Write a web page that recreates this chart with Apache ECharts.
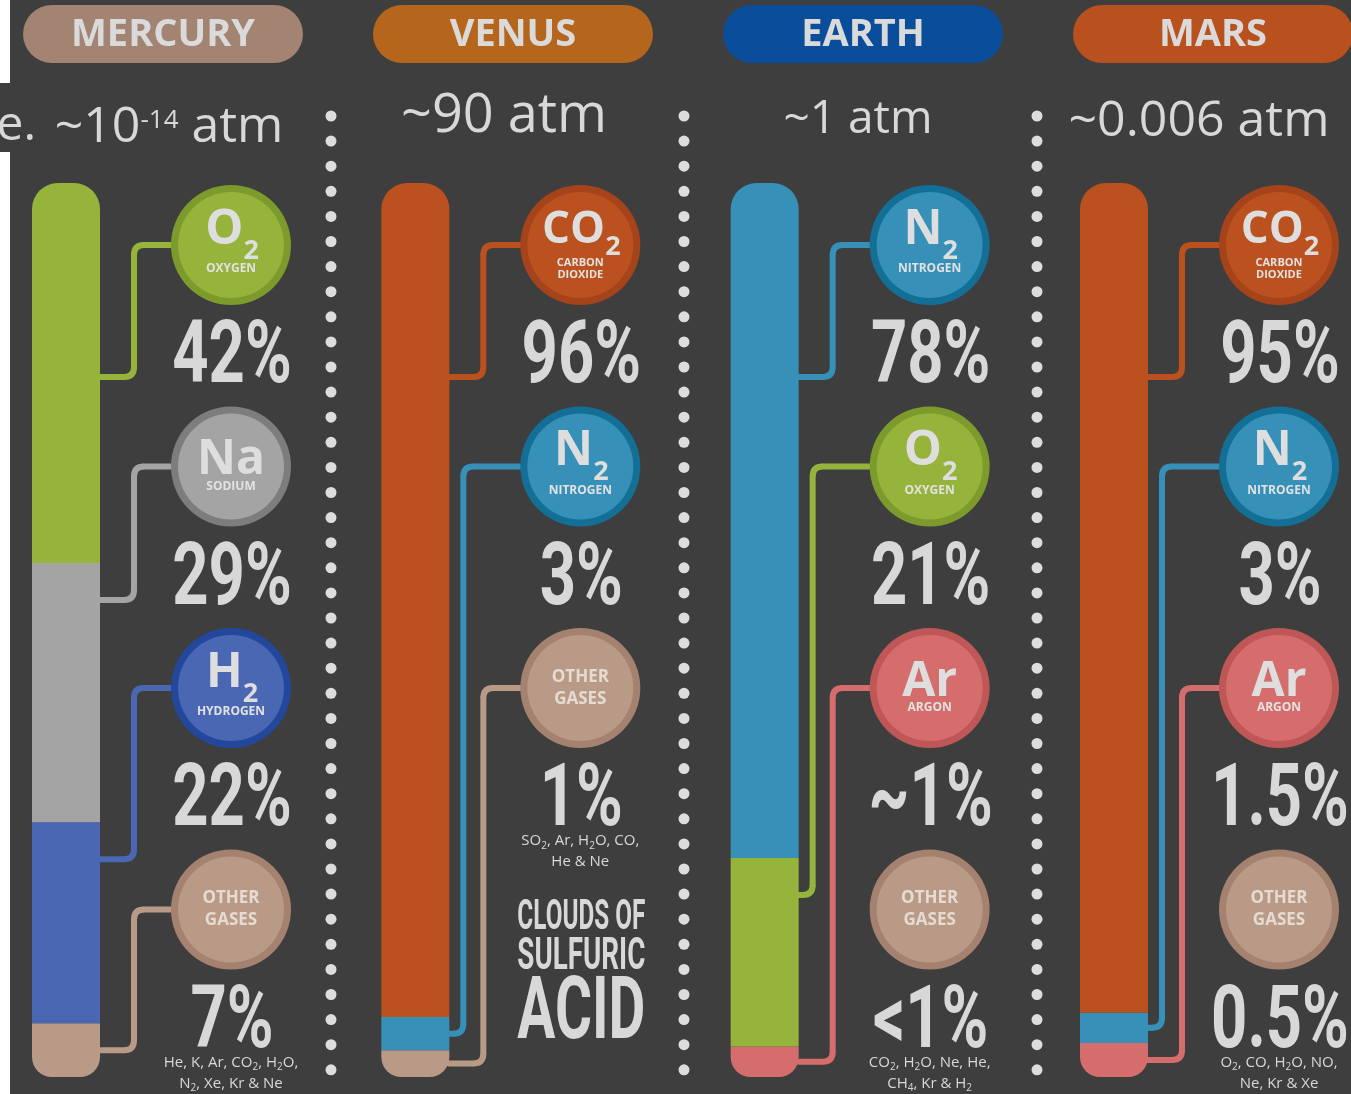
<!DOCTYPE html>
<html>
<head>
<meta charset="utf-8">
<script src="https://cdn.jsdelivr.net/npm/echarts@6/dist/echarts.min.js"></script>
<style>
html, body { margin: 0; padding: 0; background: #fff; }
#main { width: 1351px; height: 1094px; }
</style>
</head>
<body>
<div id="main"></div>
<script>
// data
var planets = ['MERCURY', 'VENUS', 'EARTH', 'MARS'];
var pressures = ['~10^{-14} atm', '~90 atm', '~1 atm', '~0.006 atm'];
var mercuryGases = ['O2', 'Na', 'H2', 'other'];
var venusGases = ['CO2', 'N2', 'other'];
var earthGases = ['N2', 'O2', 'Ar', 'other'];
var marsGases = ['CO2', 'N2', 'Ar', 'other'];
var mercuryPct = ['42%', '29%', '22%', '7%'];
var venusPct = ['96%', '3%', '1%'];
var earthPct = ['78%', '21%', '~1%', '<1%'];
var marsPct = ['95%', '3%', '1.5%', '0.5%'];
// bar segment lengths (share of the bar, top to bottom)
var mercuryBar = [42.5, 29, 22.5, 6];
var venusBar = [93.3, 3.7, 3];
var earthBar = [75.5, 21.1, 3.4];
var marsBar = [92.8, 3.4, 3.8];
var notes = [
  ['He, K, Ar, CO_2, H_2O,', 'N_2, Xe, Kr & Ne'],
  ['SO_2, Ar, H_2O, CO,', 'He & Ne'],
  ['CO_2, H_2O, Ne, He,', 'CH_4, Kr & H_2'],
  ['O_2, CO, H_2O, NO,', 'Ne, Kr & Xe']
];
var venusClouds = ['CLOUDS OF', 'SULFURIC', 'ACID'];

var gases = [mercuryGases, venusGases, earthGases, marsGases];
var pcts = [mercuryPct, venusPct, earthPct, marsPct];
var bars = [mercuryBar, venusBar, earthBar, marsBar];

// styles
var headColors = ['#a38371', '#b6661c', '#0a4e9b', '#b9511e'];
var gasStyle = {
  O2: { sym: 'O', sub: '2', name: ['OXYGEN'], ring: '#7c9b2c', fill: '#96b33b' },
  Na: { sym: 'Na', sub: '', name: ['SODIUM'], ring: '#7d7d7d', fill: '#a4a4a4' },
  H2: { sym: 'H', sub: '2', name: ['HYDROGEN'], ring: '#23479a', fill: '#4a67b3' },
  CO2: { sym: 'CO', sub: '2', name: ['CARBON', 'DIOXIDE'], ring: '#a5441a', fill: '#bb511e' },
  N2: { sym: 'N', sub: '2', name: ['NITROGEN'], ring: '#146f96', fill: '#3690b8' },
  Ar: { sym: 'Ar', sub: '', name: ['ARGON'], ring: '#c05757', fill: '#d66d6d' },
  other: { sym: '', sub: '', name: ['OTHER', 'GASES'], ring: '#a4826f', fill: '#b99a86' }
};
var TXT = '#d8d8d8';

var chart = echarts.init(document.getElementById('main'));

// stacked bars: one series per segment, only filled at its own planet
var series = [];
planets.forEach(function (p, i) {
  var segs = bars[i];
  for (var k = segs.length - 1; k >= 0; k--) {
    var item = {
      value: segs[k],
      itemStyle: {
        color: gasStyle[gases[i][k]].fill,
        borderRadius: k === 0 ? [26, 26, 0, 0] : (k === segs.length - 1 ? [0, 0, 20, 20] : 0)
      }
    };
    series.push({
      type: 'bar',
      stack: 'air',
      barWidth: 68,
      clip: false,
      silent: true,
      data: planets.map(function (q, j) { return j === i ? item : '-'; })
    });
  }
});

chart.setOption({
  backgroundColor: '#3e3e3e',
  animation: false,
  grid: { left: 66, right: 237, top: 183, bottom: 17, containLabel: false },
  xAxis: { type: 'category', data: planets, boundaryGap: false, show: false },
  yAxis: { type: 'value', min: 0, max: 100, show: false },
  series: series
});

var ctx = document.createElement('canvas').getContext('2d');
function textW(t, font) { ctx.font = font; return ctx.measureText(t).width; }

function subRich(str) {
  return str.split(/_(\d)/).map(function (part, i) {
    if (part === '') return '';
    return i % 2 ? '{s|' + part + '}' : '{t|' + part + '}';
  }).join('');
}
function txt(x, y, text, font, color, extra) {
  var el = {
    type: 'text', x: x, y: y,
    style: {
      text: text, font: font, fill: color,
      align: 'center', verticalAlign: 'middle',
      textAlign: 'center', textVerticalAlign: 'middle'
    }
  };
  if (extra) for (var key in extra) el[key] = extra[key];
  return el;
}
// a run of text pieces with their own font / vertical offset, centred as a group
function pieces(out, cx, cy, parts, color) {
  var total = 0;
  parts.forEach(function (pt) { pt.w = textW(pt.text, pt.font); total += pt.w; });
  var x = cx - total / 2;
  parts.forEach(function (pt) {
    out.push({
      type: 'text', x: x, y: cy + (pt.dy || 0),
      style: { text: pt.text, font: pt.font, fill: color, align: 'left', verticalAlign: 'middle', textAlign: 'left', textVerticalAlign: 'middle' }
    });
    x += pt.w;
  });
}
function seg(x1, y1, x2, y2, color) {
  return { type: 'line', shape: { x1: x1, y1: y1, x2: x2, y2: y2 }, style: { stroke: color, lineWidth: 6, lineCap: 'round' } };
}
function bend(x1, y1, cpx, cpy, x2, y2, color) {
  return { type: 'bezierCurve', shape: { x1: x1, y1: y1, cpx1: cpx, cpy1: cpy, x2: x2, y2: y2 }, style: { stroke: color, lineWidth: 6, fill: null } };
}

var g = [];
// cropped edge of the source picture
g.push({ type: 'rect', shape: { x: 0, y: 0, width: 10, height: 83 }, style: { fill: '#ffffff' } });
g.push({ type: 'rect', shape: { x: 0, y: 152, width: 10, height: 942 }, style: { fill: '#ffffff' } });
g.push({ type: 'text', x: 36, y: 126, style: { text: 've.', font: '48px "Open Sans"', fill: TXT, align: 'right', verticalAlign: 'middle', textAlign: 'right', textVerticalAlign: 'middle' } });

// headers and pressures
var pressX = [169, 504, 858, 1199];
var pressY = [128, 117, 120, 122];
var pressSize = [50, 54, 46, 50];
planets.forEach(function (p, i) {
  var hx = 23 + 350 * i;
  g.push({ type: 'rect', shape: { x: hx, y: 5, width: 280, height: 58, r: 29 }, style: { fill: headColors[i] } });
  g.push(txt(hx + 140, 35, p, 'bold 38px "Open Sans"', '#dadada'));
  var main = pressSize[i] + 'px "Open Sans"';
  var parts = pressures[i].split(/\^\{([^}]*)\}/).map(function (part, n) {
    return n % 2 ? { text: part, font: '26px "Open Sans"', dy: -7 } : { text: part, font: main };
  }).filter(function (pt) { return pt.text !== ''; });
  pieces(g, pressX[i], pressY[i], parts, TXT);
});

// dotted separators
for (var s = 0; s < 3; s++) {
  for (var d = 0; d < 39; d++) {
    g.push({ type: 'circle', shape: { cx: 331 + 353 * s, cy: 116 + d * 25.1, r: 5.5 }, style: { fill: '#dddddd' } });
  }
}

var yOf = function (v) { return chart.convertToPixel({ yAxisIndex: 0 }, v); };
var rowY = function (r) { return 245 + r * 221.5; };

planets.forEach(function (p, i) {
  var bx = chart.convertToPixel({ xAxisIndex: 0 }, i);
  var barRight = bx + 34;
  var cx = bx + 165;
  var segs = bars[i];

  // connectors from each bar segment to its gas circle
  var links = [];
  segs.forEach(function (v, k) {
    var topV = 0;
    for (var m = k; m < segs.length; m++) topV += segs[m];
    var y0 = yOf(topV), y1 = yOf(topV - v), h = y1 - y0;
    var ay = h > 300 ? rowY(0) + 132 : (h > 100 ? y0 + 37 : (y0 + y1) / 2);
    links.push({ k: k, ay: ay, cy: rowY(k) });
  });
  links.forEach(function (L, n) {
    var inner = links.some(function (o, m) { return m > n && o.cy < L.ay; });
    var lx = barRight + (inner ? 14 : 34);
    var r = 10;
    var col = gasStyle[gases[i][L.k]].fill;
    g.push(seg(barRight, L.ay, lx - r, L.ay, col));
    g.push(bend(lx - r, L.ay, lx, L.ay, lx, L.ay - r, col));
    g.push(seg(lx, L.ay - r, lx, L.cy + r, col));
    g.push(bend(lx, L.cy + r, lx, L.cy, lx + r, L.cy, col));
    g.push(seg(lx + r, L.cy, cx - 55, L.cy, col));
  });

  // circles, percentages
  gases[i].forEach(function (gas, k) {
    var st = gasStyle[gas];
    var cy = rowY(k);
    g.push({ type: 'circle', shape: { cx: cx, cy: cy, r: 60 }, style: { fill: st.ring } });
    g.push({ type: 'circle', shape: { cx: cx, cy: cy, r: 53 }, style: { fill: st.fill } });
    if (gas === 'other') {
      g.push(txt(cx, cy - 11, st.name[0], 'bold 17px "Open Sans"', '#e6dbd2'));
      g.push(txt(cx, cy + 11, st.name[1], 'bold 17px "Open Sans"', '#e6dbd2'));
    } else {
      var symSize = st.sym.length > 1 && st.sub ? 44 : 48;
      if (st.sub) {
        pieces(g, cx + 1, cy - 15, [
          { text: st.sym, font: 'bold ' + symSize + 'px "Open Sans"' },
          { text: st.sub, font: 'bold 27px "Open Sans"', dy: st.sym.length > 1 ? 17 : 21 }
        ], '#dedede');
      } else {
        g.push(txt(cx, cy - 6, st.sym, 'bold 48px "Open Sans"', '#dedede'));
      }
      if (st.name.length > 1) {
        g.push(txt(cx, cy + 18, st.name[0], 'bold 11px "Open Sans"', '#e2e2e2'));
        g.push(txt(cx, cy + 30, st.name[1], 'bold 11px "Open Sans"', '#e2e2e2'));
      } else {
        g.push(txt(cx, cy + (st.sub ? 24 : 20), st.name[0], 'bold 12px "Open Sans"', '#e2e2e2'));
      }
    }
    g.push(txt(cx + 1, cy + 115, pcts[i][k], 'bold 88px Roboto', TXT, { scaleX: 0.72 }));
  });

  // footnote under the last row
  var last = gases[i].length - 1;
  notes[i].forEach(function (line, n) {
    var ne = txt(cx, rowY(last) + 153 + n * 21, subRich(line), '15px "Open Sans"', TXT);
    ne.style.rich = {
      t: { fontSize: 15, fontFamily: 'Open Sans', lineHeight: 20, fill: TXT, color: TXT },
      s: { fontSize: 10, fontFamily: 'Open Sans', lineHeight: 8, verticalAlign: 'bottom', fill: TXT, color: TXT }
    };
    g.push(ne);
  });

  if (i === 1) {
    var cloudY = [918, 958, 1016];
    var cloudSize = [42, 44, 88];
    venusClouds.forEach(function (w, n) {
      var f = 'bold ' + cloudSize[n] + 'px Roboto';
      g.push(txt(cx + 1, cloudY[n], w, f, TXT, { scaleX: 128 / textW(w, f) }));
    });
  }
});

chart.setOption({ graphic: { elements: g } });
</script>
</body>
</html>
